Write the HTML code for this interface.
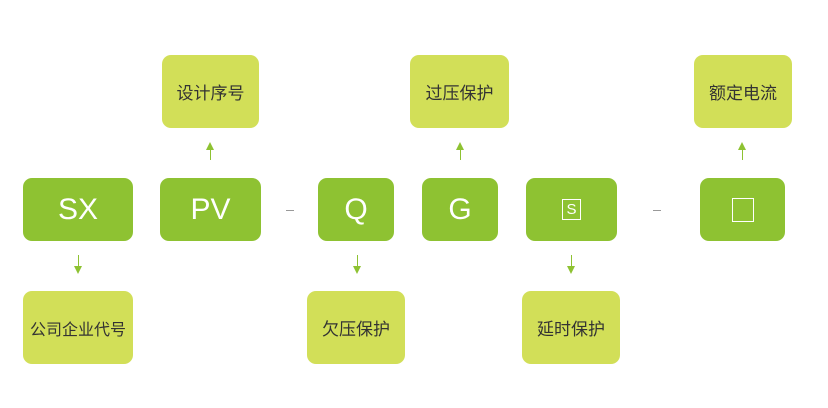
<!DOCTYPE html>
<html><head><meta charset="utf-8"><style>
body{margin:0;width:828px;height:408px;background:#fff;position:relative;overflow:hidden;font-family:"Liberation Sans","Noto Sans CJK SC",sans-serif}
.b{position:absolute;border-radius:9px;display:flex;align-items:center;justify-content:center}
.d{background:#8ec232;color:#fff;font-size:30px;font-weight:300;top:178px;height:63px}
.l{background:#d2df58;color:#333;font-size:17px;height:73px}
.t{top:55px}.u{top:291px}
.a{position:absolute;width:1px;background:#8ec232}
.h{position:absolute;width:0;height:0;border-left:4px solid transparent;border-right:4px solid transparent}
.dash{position:absolute;width:8px;height:1px;background:#999;top:210px}
</style></head><body>
<div class="b d" style="left:23px;width:110px">SX</div>
<div class="b d" style="left:160px;width:101px">PV</div>
<div class="b d" style="left:318px;width:76px">Q</div>
<div class="b d" style="left:422px;width:76px">G</div>
<div class="b d" style="left:526px;width:91px"><span style="border:1px solid #fff;font-size:15px;padding:0 3px;line-height:19px">S</span></div>
<div class="b d" style="left:700px;width:85px"><span style="display:inline-block;width:20px;height:22px;border:1.5px solid #fff"></span></div>
<div class="dash" style="left:286px"></div>
<div class="dash" style="left:653px"></div>
<div class="b l t" style="left:162px;width:97px">设计序号</div>
<div class="b l t" style="left:410px;width:99px">过压保护</div>
<div class="b l t" style="left:694px;width:98px">额定电流</div>
<div class="b l u" style="left:23px;width:110px;font-size:16px">公司企业代号</div>
<div class="b l u" style="left:307px;width:98px">欠压保护</div>
<div class="b l u" style="left:522px;width:98px">延时保护</div>
<!-- up arrows -->
<div class="a" style="left:210px;top:148px;height:12px"></div><div class="h" style="left:206px;top:142px;border-bottom:8px solid #8ec232"></div>
<div class="a" style="left:460px;top:148px;height:12px"></div><div class="h" style="left:456px;top:142px;border-bottom:8px solid #8ec232"></div>
<div class="a" style="left:742px;top:148px;height:12px"></div><div class="h" style="left:738px;top:142px;border-bottom:8px solid #8ec232"></div>
<!-- down arrows -->
<div class="a" style="left:78px;top:255px;height:12px"></div><div class="h" style="left:74px;top:266px;border-top:8px solid #8ec232"></div>
<div class="a" style="left:357px;top:255px;height:12px"></div><div class="h" style="left:353px;top:266px;border-top:8px solid #8ec232"></div>
<div class="a" style="left:571px;top:255px;height:12px"></div><div class="h" style="left:567px;top:266px;border-top:8px solid #8ec232"></div>
</body></html>
